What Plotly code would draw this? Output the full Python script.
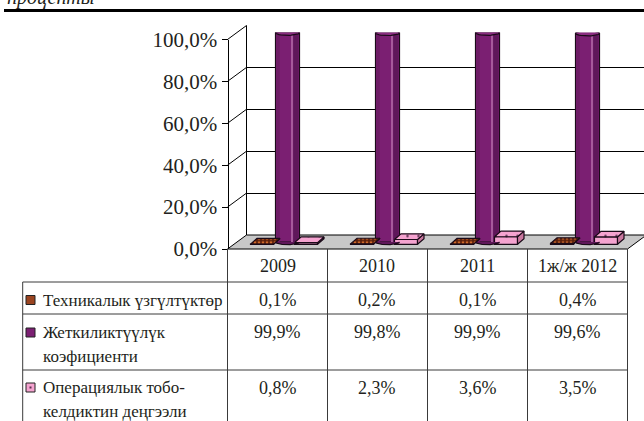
import math
import plotly.graph_objects as go

W, H = 644, 421

# ---- data -------------------------------------------------------------
categories = ["2009", "2010", "2011", "1ж/ж 2012"]
tech_failures = [0.1, 0.2, 0.1, 0.4]          # Техникалык үзгүлтүктөр, %
availability = [99.9, 99.8, 99.9, 99.6]       # Жеткиликтүүлүк коэфициенти, %
operational = [0.8, 2.3, 3.6, 3.5]            # Операциялык тобокелдиктин деңгээли, %

series_labels = [
    ["Техникалык үзгүлтүктөр"],
    ["Жеткиликтүүлүк", "коэфициенти"],
    ["Операциялык тобо-", "келдиктин деңгээли"],
]
value_ticks = [0, 20, 40, 60, 80, 100]
unit_title = "проценты"

# ---- geometry (pixels) ------------------------------------------------
SCALE = 2.095          # pixels per percent
FRONT_X = 227.5        # front (tick) axis
BACK_X = 246.5         # back wall left edge
FRONT_Y0 = 249.0       # 0 % at front plane
BACK_Y0 = 235.0        # 0 % at back wall
MID_Y0 = 242.0         # 0 % at the plane of the columns
COL_W = 100.0
TABLE_LEFT = 22.7
ROW_LINES = [282.0, 314.0, 370.0]
SERIF = "Liberation Serif"

# column/box proportions (category units)
BOX_W = 0.23
BOX_OFF = {"tech": -0.365, "oper": 0.075}
BOX_BASE = -1.1
BOX_DX = 0.065
BOX_DY = 2.7
CYL_OFF, CYL_W = -0.115, 0.24
CAP_RY = 1.25

BROWN, BROWN_DOT = "#5A200C", "#D0692A"
PURPLE, PURPLE_DARK, PURPLE_LIGHT = "#7B1F72", "#5F175A", "#A65A9C"
PINK, PINK_TOP, PINK_SIDE = "#F5A3D0", "#EDA0CB", "#C9779F"
EDGE = "#1A0A18"
TEXT = "#231F20"


def px(x):
    return x / W


def py(y):
    return 1 - y / H


def pct(v):
    return f"{v:.1f}%".replace(".", ",")


idx = list(range(len(categories)))
fig = go.Figure()

# back wall gridlines (subplot xy, drawn first so it sits behind the columns)
fig.add_trace(go.Scatter(x=[0.5], y=[50], mode="none", hoverinfo="skip",
                         showlegend=False, xaxis="x", yaxis="y"))


def box_traces(values, off, front_color, top_color, side_color, pattern):
    traces = [go.Bar(
        x=idx, y=values, base=BOX_BASE, width=BOX_W, offset=off,
        marker=dict(color=front_color, line=dict(color=EDGE, width=1.2),
                    pattern=pattern),
        hoverinfo="skip", showlegend=False, xaxis="x2", yaxis="y2")]
    for i, v in enumerate(values):
        x0, x1 = i + off, i + off + BOX_W
        t = BOX_BASE + v
        traces.append(go.Scatter(
            x=[x1, x1 + BOX_DX, x1 + BOX_DX, x1, x1],
            y=[BOX_BASE, BOX_BASE + BOX_DY, t + BOX_DY, t, BOX_BASE],
            mode="lines", fill="toself", fillcolor=side_color,
            line=dict(color=EDGE, width=1.2), hoverinfo="skip",
            showlegend=False, xaxis="x2", yaxis="y2"))
        traces.append(go.Scatter(
            x=[x0, x1, x1 + BOX_DX, x0 + BOX_DX, x0],
            y=[t, t, t + BOX_DY, t + BOX_DY, t],
            mode="lines", fill="toself", fillcolor=top_color,
            fillpattern=pattern,
            line=dict(color=EDGE, width=1.2), hoverinfo="skip",
            showlegend=False, xaxis="x2", yaxis="y2"))
    return traces


def ellipse(cx, cy, rx, ry, a0=0.0, a1=2 * math.pi, n=40):
    xs, ys = [], []
    for k in range(n + 1):
        a = a0 + (a1 - a0) * k / n
        xs.append(cx + rx * math.cos(a))
        ys.append(cy + ry * math.sin(a))
    return xs, ys


brown_pattern = dict(shape=".", fgcolor=BROWN_DOT, bgcolor=BROWN, size=4, solidity=0.35)
pink_pattern = dict(shape=".", fgcolor="#5A3050", bgcolor=PINK, size=11, solidity=0.04)

# technical failures (left boxes)
for tr in box_traces(tech_failures, BOX_OFF["tech"], BROWN, BROWN, "#3A1408", brown_pattern):
    fig.add_trace(tr)

# availability cylinders
cx_off = CYL_OFF + CYL_W / 2
rx = CYL_W / 2
for i in idx:
    bx, by = ellipse(i + cx_off, 0, rx, CAP_RY, math.pi, 2 * math.pi)
    fig.add_trace(go.Scatter(x=bx, y=by, mode="lines", fill="toself",
                             fillcolor=PURPLE_DARK, line=dict(color=EDGE, width=1.2),
                             hoverinfo="skip", showlegend=False, xaxis="x2", yaxis="y2"))
fig.add_trace(go.Bar(x=idx, y=availability, width=CYL_W, offset=CYL_OFF,
                     marker=dict(color=PURPLE, line=dict(color=EDGE, width=1.2)),
                     hoverinfo="skip", showlegend=False, xaxis="x2", yaxis="y2"))
for off, w, col in [(CYL_OFF + 0.012, 0.03, "#6C1B64"),
                    (0.04, 0.022, PURPLE_LIGHT),
                    (0.062, 0.052, PURPLE_DARK)]:
    fig.add_trace(go.Bar(x=idx, y=availability, width=w, offset=off,
                         marker=dict(color=col, line=dict(width=0)),
                         hoverinfo="skip", showlegend=False, xaxis="x2", yaxis="y2"))
for i, v in enumerate(availability):
    ex, ey = ellipse(i + cx_off, v, rx, CAP_RY)
    fig.add_trace(go.Scatter(x=ex, y=ey, mode="lines", fill="toself",
                             fillcolor="#8A2C80", line=dict(color=EDGE, width=1.2),
                             hoverinfo="skip", showlegend=False, xaxis="x2", yaxis="y2"))

# operational risk (right boxes)
for tr in box_traces(operational, BOX_OFF["oper"], PINK, PINK_TOP, PINK_SIDE, pink_pattern):
    fig.add_trace(tr)

# front value axis
fig.add_trace(go.Scatter(x=[0], y=[50], mode="none", hoverinfo="skip",
                         showlegend=False, xaxis="x2", yaxis="y3"))

shapes = []
# floor
fl = [(FRONT_X, FRONT_Y0), (FRONT_X + 4 * COL_W, FRONT_Y0),
      (FRONT_X + 4 * COL_W + (BACK_X - FRONT_X), BACK_Y0), (BACK_X, BACK_Y0)]
path = "M " + " L ".join(f"{px(x)},{py(y)}" for x, y in fl) + " Z"
shapes.append(dict(type="path", path=path, xref="paper", yref="paper",
                   fillcolor="#C8C8C8", line=dict(color="black", width=1), layer="below"))
# side wall
for v in value_ticks[1:]:
    shapes.append(dict(type="line", xref="paper", yref="paper",
                       x0=px(FRONT_X), y0=py(FRONT_Y0 - v * SCALE),
                       x1=px(BACK_X), y1=py(BACK_Y0 - v * SCALE),
                       line=dict(color="black", width=1)))
shapes.append(dict(type="line", xref="paper", yref="paper",
                   x0=px(BACK_X), y0=py(BACK_Y0), x1=px(BACK_X), y1=py(BACK_Y0 - 100 * SCALE),
                   line=dict(color="black", width=1)))
# data table grid
TABLE_LINE = dict(color="#3A3A3A", width=1)
for k in range(len(categories) + 1):
    x = FRONT_X + k * COL_W
    shapes.append(dict(type="line", xref="paper", yref="paper",
                       x0=px(x), y0=py(FRONT_Y0), x1=px(x), y1=py(H + 2), line=TABLE_LINE))
for y in ROW_LINES:
    shapes.append(dict(type="line", xref="paper", yref="paper",
                       x0=px(TABLE_LEFT), y0=py(y), x1=px(FRONT_X + 4 * COL_W), y1=py(y),
                       line=TABLE_LINE))
shapes.append(dict(type="line", xref="paper", yref="paper",
                   x0=px(TABLE_LEFT), y0=py(ROW_LINES[0]), x1=px(TABLE_LEFT), y1=py(H + 2),
                   line=TABLE_LINE))
# heading rule
shapes.append(dict(type="line", xref="paper", yref="paper",
                   x0=px(4), y0=py(10.5), x1=1, y1=py(10.5),
                   line=dict(color="black", width=3)))

# legend keys in the table
key_rows = [300.0, 332.5, 387.5]
key_fill = ["#9A4420", PURPLE, PINK]
for y, col in zip(key_rows, key_fill):
    shapes.append(dict(type="rect", xref="paper", yref="paper",
                       x0=px(26), x1=px(35), y0=py(y + 4.5), y1=py(y - 4.5),
                       fillcolor=col, line=dict(color="#222", width=1)))
shapes.append(dict(type="rect", xref="paper", yref="paper",
                   x0=px(29.5), x1=px(31.5), y0=py(key_rows[2] + 1), y1=py(key_rows[2] - 1),
                   fillcolor="#5A3050", line=dict(width=0)))

annotations = []
value_font = dict(family=SERIF, size=18, color=TEXT)
label_font = dict(family=SERIF, size=17, color=TEXT)
for k, c in enumerate(categories):
    xc = FRONT_X + (k + 0.5) * COL_W
    annotations.append(dict(text=c, x=px(xc), y=py(265.5), xref="paper", yref="paper",
                            showarrow=False, xanchor="center", yanchor="middle",
                            font=value_font))
row_value_y = [300.0, 332.0, 387.5]
for vals, y in zip([tech_failures, availability, operational], row_value_y):
    for k, v in enumerate(vals):
        xc = FRONT_X + (k + 0.5) * COL_W
        annotations.append(dict(text=pct(v), x=px(xc), y=py(y), xref="paper", yref="paper",
                                showarrow=False, xanchor="center", yanchor="middle",
                                font=value_font))
line_gap = 24
for lines, y in zip(series_labels, key_rows):
    for j, t in enumerate(lines):
        annotations.append(dict(text=t, x=px(41), y=py(y + j * line_gap), xref="paper",
                                yref="paper", showarrow=False, xanchor="left",
                                yanchor="middle", font=label_font))
annotations.append(dict(text=f"<i>{unit_title}</i>", x=px(5), y=py(11.5), xref="paper",
                        yref="paper", showarrow=False, xanchor="left", yanchor="bottom",
                        font=dict(family=SERIF, size=20, color=TEXT)))

hidden = dict(visible=False, showgrid=False, zeroline=False, fixedrange=True,
              automargin=False)
fig.update_layout(
    template="none",
    width=W, height=H, autosize=False,
    margin=dict(l=0, r=0, t=0, b=0, pad=0, autoexpand=False),
    paper_bgcolor="white", plot_bgcolor="rgba(0,0,0,0)",
    barmode="overlay", showlegend=False,
    xaxis=dict(domain=[px(BACK_X), 1], range=[0, 1], anchor="y", **hidden),
    yaxis=dict(domain=[py(BACK_Y0), py(BACK_Y0 - 100 * SCALE)], range=[0, 100],
               anchor="x", showgrid=True, gridcolor="black", gridwidth=1,
               tickvals=value_ticks[1:], showticklabels=False, ticks="",
               zeroline=False, showline=False, fixedrange=True, automargin=False),
    xaxis2=dict(domain=[px(FRONT_X + 9.5), px(FRONT_X + 9.5 + 4 * COL_W)],
                range=[-0.5, 3.5], anchor="y2", **hidden),
    yaxis2=dict(domain=[py(MID_Y0 + 5 * SCALE), py(MID_Y0 - 100 * SCALE)],
                range=[-5, 100], anchor="x2", **hidden),
    yaxis3=dict(domain=[py(FRONT_Y0), py(FRONT_Y0 - 100 * SCALE)], range=[0, 100],
                anchor="free", position=px(FRONT_X), side="left",
                showline=True, linecolor="black", linewidth=1,
                ticks="outside", ticklen=6, tickcolor="black", tickwidth=1,
                tickvals=value_ticks, ticktext=[pct(v) for v in value_ticks],
                tickfont=dict(family=SERIF, size=21, color=TEXT),
                showgrid=False, zeroline=False, fixedrange=True, automargin=False),
    shapes=shapes, annotations=annotations,
)

fig.write_html("out.html")
